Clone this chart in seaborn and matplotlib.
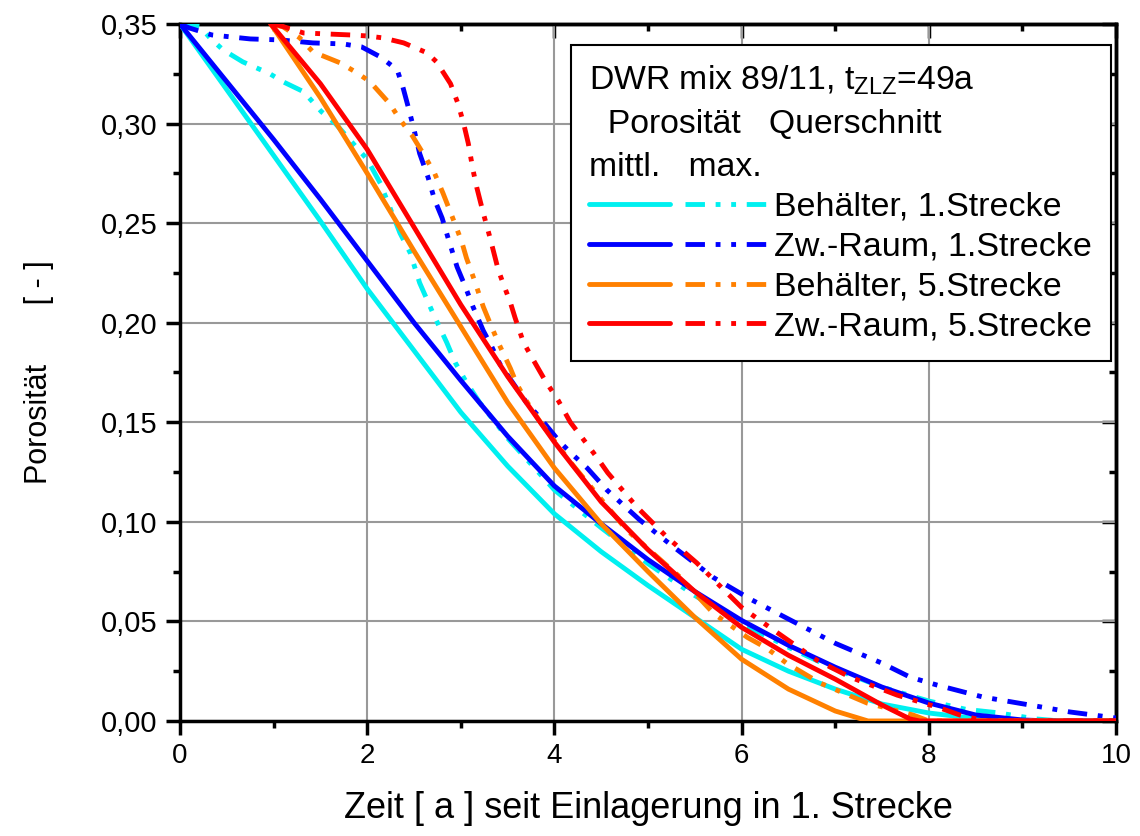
import numpy as np
import pandas as pd
import matplotlib
matplotlib.use("Agg")
import matplotlib.pyplot as plt
import seaborn as sns
from matplotlib.lines import Line2D
from matplotlib.legend_handler import HandlerTuple
from matplotlib.ticker import FixedLocator, FixedFormatter

# ---------------- data ----------------
# Behälter, 1.Strecke - mittl. (cyan solid)
c1m_x = [0, 0.5, 1.0, 1.5, 2.0, 2.5, 3.0, 3.5, 4.0, 4.5, 5.0, 5.5, 6.0, 6.5, 7.0, 7.5, 8.0, 8.5, 9.0, 10]
c1m_y = [0.35, 0.317, 0.284, 0.251, 0.217, 0.186, 0.155, 0.128, 0.104, 0.085, 0.068, 0.052, 0.036, 0.025, 0.016, 0.0085, 0.004, 0.0012, 0.0, 0.0]
# Behälter, 1.Strecke - max. (cyan dash-dot-dot)
c1x_x = [0, 0.21, 0.32, 0.46, 0.67, 0.96, 1.1, 1.32, 1.51, 1.66, 2.0, 2.14, 2.35, 2.46, 2.56, 2.71, 2.85, 2.94, 3.06, 3.2, 3.5, 4.0, 4.5, 5.0, 5.5, 6.0, 6.5, 7.0, 7.5, 8.0, 8.4, 8.72, 9.15, 9.4, 10]
c1x_y = [0.35, 0.349, 0.343, 0.337, 0.331, 0.325, 0.321, 0.316, 0.306, 0.30, 0.282, 0.27, 0.245, 0.235, 0.22, 0.204, 0.19, 0.18, 0.17, 0.16, 0.142, 0.116, 0.097, 0.079, 0.063, 0.049, 0.037, 0.026, 0.017, 0.010, 0.0058, 0.0042, 0.001, 0.0, 0.0]
# Zw.-Raum, 1.Strecke - mittl. (blue solid)
b1m_x = [0, 0.5, 1.0, 1.5, 2.0, 2.5, 3.0, 3.5, 4.0, 4.5, 5.0, 5.5, 6.0, 6.5, 7.0, 7.5, 8.0, 8.5, 9.0, 9.3, 10]
b1m_y = [0.35, 0.321, 0.292, 0.262, 0.231, 0.2, 0.171, 0.143, 0.118, 0.099, 0.081, 0.065, 0.0505, 0.038, 0.027, 0.017, 0.009, 0.003, 0.0005, 0.0, 0.0]
# Zw.-Raum, 1.Strecke - max. (blue dash-dot-dot)
b1x_x = [0, 0.1, 0.34, 0.75, 1.07, 1.42, 1.74, 1.94, 2.14, 2.32, 2.38, 2.44, 2.5, 2.56, 2.65, 2.72, 2.8, 2.87, 2.96, 3.04, 3.13, 3.24, 3.33, 3.42, 3.7, 3.85, 4.06, 4.19, 4.35, 4.56, 4.91, 5.27, 5.7, 6.1, 6.52, 7.0, 7.5, 7.8, 8.09, 8.58, 9.08, 9.51, 10]
b1x_y = [0.35, 0.348, 0.3445, 0.3425, 0.342, 0.3405, 0.34, 0.3385, 0.3335, 0.327, 0.3185, 0.308, 0.297, 0.285, 0.273, 0.2617, 0.2526, 0.2416, 0.228, 0.219, 0.208, 0.196, 0.188, 0.179, 0.16, 0.152, 0.14, 0.134, 0.127, 0.116, 0.101, 0.0875, 0.072, 0.061, 0.0507, 0.039, 0.029, 0.022, 0.018, 0.012, 0.008, 0.0045, 0.0015]
# Behälter, 5.Strecke - mittl. (orange solid)
o5m_x = [0.97, 1.5, 2.0, 2.5, 3.0, 3.5, 4.0, 4.5, 5.0, 5.5, 6.0, 6.5, 7.0, 7.35, 10]
o5m_y = [0.35, 0.313, 0.275, 0.236, 0.198, 0.16, 0.127, 0.099, 0.075, 0.052, 0.031, 0.016, 0.005, 0.0, 0.0]
# Behälter, 5.Strecke - max. (orange dash-dot-dot)
o5x_x = [0.97, 1.1, 1.28, 1.42, 1.71, 1.89, 2.03, 2.24, 2.35, 2.48, 2.61, 2.72, 2.81, 2.91, 3.01, 3.06, 3.14, 3.24, 3.31, 3.4, 3.53, 3.6, 3.71, 3.85, 4.17, 4.77, 5.34, 5.7, 6.06, 6.27, 6.48, 6.66, 6.84, 7.34, 7.55, 7.83, 8.0, 10]
o5x_y = [0.35, 0.3486, 0.343, 0.336, 0.3305, 0.3255, 0.321, 0.31, 0.302, 0.294, 0.284, 0.275, 0.265, 0.253, 0.2406, 0.2325, 0.222, 0.208, 0.20, 0.19, 0.177, 0.169, 0.16, 0.15, 0.13, 0.096, 0.0723, 0.054, 0.042, 0.0365, 0.029, 0.024, 0.019, 0.009, 0.0065, 0.003, 0.0, 0.0]
# Zw.-Raum, 5.Strecke - mittl. (red solid)
r5m_x = [0.97, 1.5, 2.0, 2.5, 3.0, 3.5, 4.0, 4.5, 5.0, 5.5, 6.0, 6.5, 7.0, 7.5, 7.8, 7.9, 10]
r5m_y = [0.35, 0.32, 0.287, 0.248, 0.209, 0.173, 0.14, 0.11, 0.086, 0.065, 0.047, 0.033, 0.021, 0.008, 0.001, 0.0, 0.0]
# Zw.-Raum, 5.Strecke - max. (red dash-dot-dot)
r5x_x = [0.97, 1.04, 1.32, 1.57, 1.82, 2.0, 2.17, 2.39, 2.64, 2.74, 2.89, 2.97, 3.03, 3.08, 3.13, 3.17, 3.24, 3.31, 3.4, 3.45, 3.53, 3.58, 3.67, 3.79, 3.9, 4.04, 4.17, 4.29, 4.45, 4.57, 4.88, 5.2, 5.52, 6.0, 6.34, 6.8, 7.16, 7.66, 8.12, 8.33, 8.6, 10]
r5x_y = [0.35, 0.3496, 0.3455, 0.345, 0.3445, 0.344, 0.343, 0.3405, 0.3355, 0.331, 0.32, 0.31, 0.30, 0.29, 0.2767, 0.268, 0.255, 0.243, 0.2265, 0.22, 0.21, 0.2024, 0.19, 0.18, 0.171, 0.161, 0.15, 0.1426, 0.1326, 0.1246, 0.1075, 0.0924, 0.0794, 0.057, 0.0457, 0.0306, 0.022, 0.013, 0.0065, 0.003, 0.0, 0.0]

legend_labels = ["Behälter, 1.Strecke", "Zw.-Raum, 1.Strecke", "Behälter, 5.Strecke", "Zw.-Raum, 5.Strecke"]
series_colors = ["#00F0F0", "#0000FF", "#FF8000", "#FF0000"]
x_ticks = [0, 2, 4, 6, 8, 10]
x_ticklabels = ["0", "2", "4", "6", "8", "10"]
x_minor = [1, 3, 5, 7, 9]
y_ticks = [0.0, 0.05, 0.10, 0.15, 0.20, 0.25, 0.30, 0.35]
y_ticklabels = ["0,00", "0,05", "0,10", "0,15", "0,20", "0,25", "0,30", "0,35"]
y_minor = [0.025, 0.075, 0.125, 0.175, 0.225, 0.275, 0.325]
x_label = "Zeit [ a ] seit Einlagerung in 1. Strecke"
y_label = "Porosität       [ - ]"
legend_title = "DWR mix 89/11, t$_\\mathregular{ZLZ}$=49a\n  Porosität   Querschnitt\nmittl.   max."

# ---------------- style ----------------
sns.set_style("white")
plt.rcParams['font.family'] = ['Liberation Sans', 'DejaVu Sans']
plt.rcParams['mathtext.fontset'] = 'custom'
plt.rcParams['mathtext.rm'] = 'Liberation Sans'
plt.rcParams['mathtext.it'] = 'Liberation Sans'
for k in ["text.color", "axes.labelcolor", "xtick.color", "ytick.color", "axes.edgecolor"]:
    plt.rcParams[k] = "black"

LW = 3.5
DD = (0, (4, 2.2, 1, 2.2, 1, 2.2))

fig = plt.figure(figsize=(11.4, 8.36), dpi=100)
ax = fig.add_axes([0.1579, 0.1376, 0.8211, 0.8337])

series = [
    (c1m_x, c1m_y, series_colors[0], "-"),
    (c1x_x, c1x_y, series_colors[0], DD),
    (b1m_x, b1m_y, series_colors[1], "-"),
    (b1x_x, b1x_y, series_colors[1], DD),
    (o5m_x, o5m_y, series_colors[2], "-"),
    (o5x_x, o5x_y, series_colors[2], DD),
    (r5m_x, r5m_y, series_colors[3], "-"),
    (r5x_x, r5x_y, series_colors[3], DD),
]
for xs, ys, col, ls in series:
    df = pd.DataFrame({"x": xs, "y": ys})
    sns.lineplot(data=df, x="x", y="y", ax=ax, color=col, lw=LW, linestyle=ls,
                 sort=False, estimator=None, zorder=3)

ax.set_xlim(0, 10)
ax.set_ylim(0, 0.35)
ax.xaxis.set_major_locator(FixedLocator(x_ticks))
ax.xaxis.set_major_formatter(FixedFormatter(x_ticklabels))
ax.yaxis.set_major_locator(FixedLocator(y_ticks))
ax.yaxis.set_major_formatter(FixedFormatter(y_ticklabels))
ax.xaxis.set_minor_locator(FixedLocator(x_minor))
ax.yaxis.set_minor_locator(FixedLocator(y_minor))

ax.grid(True, which="major", color="#999999", lw=1.5, zorder=0)
ax.set_axisbelow(True)
for sp in ax.spines.values():
    sp.set_linewidth(2.5)
    sp.set_color("black")
    sp.set_visible(True)

ax.tick_params(which="major", direction="out", length=10, width=2.5, pad=6,
               left=True, bottom=True, top=False, right=False, colors="black")
ax.tick_params(axis="x", which="major", labelsize=20)
ax.tick_params(axis="y", which="major", labelsize=21)
ax.tick_params(which="minor", direction="out", length=5, width=2.5,
               left=True, bottom=True, top=False, right=False)

secx = ax.secondary_xaxis("top")
secx.xaxis.set_major_locator(FixedLocator(x_ticks))
secx.xaxis.set_minor_locator(FixedLocator(x_minor))
secx.tick_params(which="major", direction="in", length=10, width=2.5, labeltop=False)
secx.tick_params(which="minor", direction="in", length=5, width=2.5)
secx.spines["top"].set_linewidth(2.5)
secy = ax.secondary_yaxis("right")
secy.yaxis.set_major_locator(FixedLocator(y_ticks))
secy.yaxis.set_minor_locator(FixedLocator(y_minor))
secy.tick_params(which="major", direction="in", length=10, width=2.5, labelright=False)
secy.tick_params(which="minor", direction="in", length=5, width=2.5)
secy.spines["right"].set_linewidth(2.5)

ax.set_xlabel(x_label, fontsize=26, labelpad=16)
ax.set_ylabel(y_label, fontsize=22, labelpad=34)

handles = [(Line2D([], [], color=c, lw=LW), Line2D([], [], color=c, lw=LW, linestyle=DD))
           for c in series_colors]
leg = ax.legend(handles, legend_labels,
                handler_map={tuple: HandlerTuple(ndivide=None, pad=0.44)},
                loc="upper right", bbox_to_anchor=(0.9947, 0.970),
                title=legend_title, title_fontsize=24.3, fontsize=24.5,
                handlelength=5.18, handletextpad=0.26, labelspacing=0.26,
                borderpad=0.55, borderaxespad=0, frameon=True, fancybox=False,
                edgecolor="black", framealpha=1, alignment="left")
leg.get_frame().set_linewidth(1.5)
leg.get_title().set_linespacing(1.5)
leg.set_zorder(5)

fig.savefig("out.png", dpi=100)
